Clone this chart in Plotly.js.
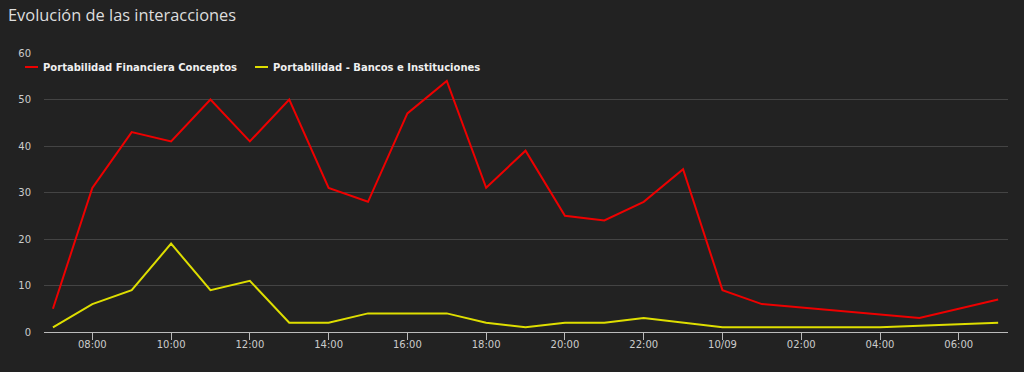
<!DOCTYPE html>
<html>
<head>
<meta charset="utf-8">
<script src="https://cdn.plot.ly/plotly-3.0.1.min.js"></script>
<style>
html,body{margin:0;padding:0;background:#222222;}
#chart{width:1024px;height:372px;}
</style>
</head>
<body>
<div id="chart"></div>
<script>
// Series 1: Portabilidad Financiera Conceptos
const redTimes = ["2024-09-09 07:00","2024-09-09 08:00","2024-09-09 09:00","2024-09-09 10:00","2024-09-09 11:00","2024-09-09 12:00","2024-09-09 13:00","2024-09-09 14:00","2024-09-09 15:00","2024-09-09 16:00","2024-09-09 17:00","2024-09-09 18:00","2024-09-09 19:00","2024-09-09 20:00","2024-09-09 21:00","2024-09-09 22:00","2024-09-09 23:00","2024-09-10 00:00","2024-09-10 01:00","2024-09-10 05:00","2024-09-10 07:00"];
const redValues = [5,31,43,41,50,41,50,31,28,47,54,31,39,25,24,28,35,9,6,3,7];
// Series 2: Portabilidad - Bancos e Instituciones
const yellowTimes = ["2024-09-09 07:00","2024-09-09 08:00","2024-09-09 09:00","2024-09-09 10:00","2024-09-09 11:00","2024-09-09 12:00","2024-09-09 13:00","2024-09-09 14:00","2024-09-09 15:00","2024-09-09 16:00","2024-09-09 17:00","2024-09-09 18:00","2024-09-09 19:00","2024-09-09 20:00","2024-09-09 21:00","2024-09-09 22:00","2024-09-09 23:00","2024-09-10 00:00","2024-09-10 01:00","2024-09-10 04:00","2024-09-10 07:00"];
const yellowValues = [1,6,9,19,9,11,2,2,4,4,4,2,1,2,2,3,2,1,1,1,2];

const seriesNames = ["Portabilidad Financiera Conceptos","Portabilidad - Bancos e Instituciones"];
const seriesColors = ["#ee0000","#dede00"];

const tickVals = ["2024-09-09 08:00","2024-09-09 10:00","2024-09-09 12:00","2024-09-09 14:00","2024-09-09 16:00","2024-09-09 18:00","2024-09-09 20:00","2024-09-09 22:00","2024-09-10 00:00","2024-09-10 02:00","2024-09-10 04:00","2024-09-10 06:00"];
const tickText = ["08:00","10:00","12:00","14:00","16:00","18:00","20:00","22:00","10/09","02:00","04:00","06:00"];

const titleText = "Evolución de las interacciones";

const traces = [
  {x: redTimes, y: redValues, name: seriesNames[0], type: "scatter", mode: "lines",
   line: {color: seriesColors[0], width: 2}, hoverinfo: "skip"},
  {x: yellowTimes, y: yellowValues, name: seriesNames[1], type: "scatter", mode: "lines",
   line: {color: seriesColors[1], width: 2}, hoverinfo: "skip"}
];

// custom legend (positions in paper coords)
const L = 44, R = 16, T = 53, B = 40, W = 1024, H = 372;
const pw = W - L - R, ph = H - T - B;
const px = v => (v - L) / pw;
const py = v => (H - B - v) / ph;
const legendY = 67;
const legendItems = [
  {sx0: 25, sx1: 38, tx: 41},
  {sx0: 255, sx1: 268, tx: 271}
];
const shapes = legendItems.map((it, i) => ({
  type: "line", xref: "paper", yref: "paper",
  x0: px(it.sx0), x1: px(it.sx1), y0: py(legendY), y1: py(legendY),
  line: {color: seriesColors[i], width: 2}
}));
const annotations = legendItems.map((it, i) => ({
  xref: "paper", yref: "paper", x: px(it.tx), y: py(legendY),
  xanchor: "left", yanchor: "middle", showarrow: false,
  text: "<b>" + seriesNames[i] + "</b>",
  font: {family: "DejaVu Sans", size: 10, color: "#f0f0f0"}
}));

const layout = {
  width: W, height: H,
  paper_bgcolor: "#222222", plot_bgcolor: "#222222",
  margin: {l: L, r: R, t: T, b: B, pad: 0},
  showlegend: false,
  title: {text: titleText, x: 0, xref: "container", xanchor: "left", y: 1, yref: "container", yanchor: "top",
          pad: {l: 8, t: 10},
          font: {family: "Open Sans", size: 16.4, color: "#dddddd"}},
  xaxis: {
    type: "date",
    range: ["2024-09-09 06:46:24", "2024-09-10 07:15:00"],
    tickvals: tickVals, ticktext: tickText,
    showgrid: false, zeroline: false,
    showline: true, linecolor: "#bbbbbb", linewidth: 1,
    ticks: "outside", ticklen: 7, tickcolor: "#bbbbbb", tickwidth: 1,
    ticklabelstandoff: -4,
    tickfont: {family: "DejaVu Sans", size: 10, color: "#cccccc"}
  },
  yaxis: {
    range: [0, 60], dtick: 10, tick0: 0,
    showgrid: true, gridcolor: "#444444", gridwidth: 1,
    zeroline: false, showline: false, ticks: "",
    ticklabelstandoff: 12,
    tickfont: {family: "DejaVu Sans", size: 10, color: "#cccccc"}
  },
  shapes: shapes,
  annotations: annotations
};

Plotly.newPlot("chart", traces, layout, {staticPlot: true, displayModeBar: false});
</script>
</body>
</html>
